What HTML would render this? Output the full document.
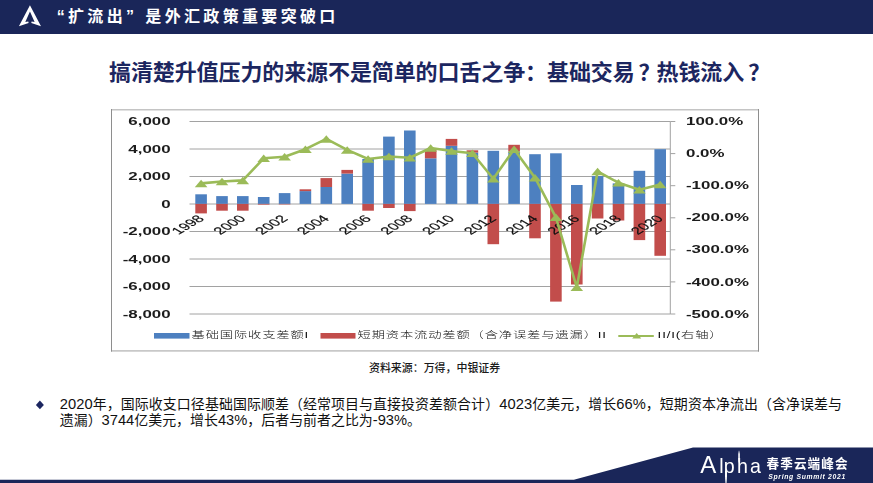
<!DOCTYPE html>
<html lang="zh-CN">
<head>
<meta charset="utf-8">
<title>“扩流出”是外汇政策重要突破口</title>
<style>
html,body{margin:0;padding:0;background:#fff;}
body{width:873px;height:483px;position:relative;overflow:hidden;font-family:"Liberation Sans","Noto Sans CJK SC",sans-serif;}
.hdr{position:absolute;left:0;top:0;width:873px;height:34px;background:#1a2659;}
.hdr .t{position:absolute;left:48.7px;top:1.3px;height:33px;line-height:32px;color:#fff;font-weight:bold;font-size:16px;letter-spacing:3.33px;white-space:nowrap;font-family:"Liberation Sans","Noto Sans CJK SC",sans-serif;}
.logo{position:absolute;left:0;top:0;}
.q{display:inline-block;width:16px;letter-spacing:0;margin-right:3.33px;}
.q.l{text-align:right;}
.q.r{text-align:left;}
.title{position:absolute;left:109px;top:58.3px;height:30px;line-height:30px;color:#1c2660;font-weight:bold;font-size:22px;letter-spacing:-0.1px;white-space:nowrap;}
.qm{position:relative;left:4px;}
.chart{position:absolute;left:0;top:0;}
.chart text{font-family:"DejaVu Sans","Noto Sans CJK SC",sans-serif;}
.chart .ax{font-size:10px;font-weight:bold;fill:#1a1a1a;font-family:"Liberation Sans",sans-serif;}
.chart .xl{font-size:10px;fill:#111;stroke:#111;stroke-width:0.15px;font-family:"Liberation Sans",sans-serif;}
.chart .lg{font-size:9.4px;letter-spacing:0.6px;font-weight:300;fill:#111;font-family:"Liberation Sans","Noto Sans CJK SC",sans-serif;}
.src{position:absolute;left:369px;top:360.9px;white-space:nowrap;font-size:10.95px;font-weight:500;color:#1a1a1a;line-height:14px;}
.bullet{position:absolute;left:0;top:0;}
.body{position:absolute;left:59.8px;top:396.8px;width:810px;font-size:13.95px;line-height:15.8px;color:#111;white-space:nowrap;}
.body .l1{letter-spacing:0.075px;}
.body .n{font-size:14.7px;line-height:1px;}
.foot{position:absolute;left:0;top:0;}
.ft1{position:absolute;left:766.5px;top:455.5px;color:#fff;font-size:12.6px;font-weight:bold;letter-spacing:1.1px;white-space:nowrap;line-height:16px;}
.ft2{position:absolute;left:768.3px;top:471.8px;color:#fff;font-size:6.8px;font-weight:bold;font-style:italic;letter-spacing:0.68px;white-space:nowrap;line-height:9px;}
.alpha{fill:#fff;font-size:19.65px;font-family:"Liberation Sans",sans-serif;}
.bigA{font-size:24px;}
</style>
</head>
<body>
<div class="hdr">
<svg class="logo" width="60" height="34" viewBox="0 0 60 34"><path d="M29.95,5.3 L18.9,26.3 L28.6,22.9 L28.3,21.5 L25.3,22.1 L29.95,11.4 L34.6,22.1 L31.6,21.5 L31.3,22.9 L41,26.3 Z" fill="#fff"/></svg>
<div class="t"><span class="q l">“</span>扩流出<span class="q r">”</span>是外汇政策重要突破口</div>
</div>
<div class="title">搞清楚升值压力的来源不是简单的口舌之争：基础交易<span class="qm">？</span>热钱流入<span class="qm">？</span></div>
<svg class="chart" width="873" height="483" viewBox="0 0 873 483">
<defs><filter id="bl" x="-5%" y="-5%" width="110%" height="110%"><feGaussianBlur stdDeviation="0.45"/></filter></defs>
<g filter="url(#bl)">
<rect x="111" y="109" width="648" height="242.6" fill="#fff"/>
<line x1="111" x2="759" y1="109.8" y2="109.8" stroke="#c4c4c4" stroke-width="1.6"/>
<line x1="111" x2="759" y1="350.8" y2="350.8" stroke="#c8c8c8" stroke-width="1.8"/>
<line x1="111.5" x2="111.5" y1="109" y2="351.6" stroke="#8e8e8e" stroke-width="1"/>
<line x1="758.5" x2="758.5" y1="109" y2="351.6" stroke="#8e8e8e" stroke-width="1"/>
<line x1="189.5" x2="670.3" y1="121.5" y2="121.5" stroke="#a2a2a2" stroke-width="1"/>
<line x1="189.5" x2="670.3" y1="149.0" y2="149.0" stroke="#a2a2a2" stroke-width="1"/>
<line x1="189.5" x2="670.3" y1="176.5" y2="176.5" stroke="#a2a2a2" stroke-width="1"/>
<line x1="189.5" x2="670.3" y1="204.0" y2="204.0" stroke="#a2a2a2" stroke-width="1"/>
<line x1="189.5" x2="670.3" y1="231.5" y2="231.5" stroke="#a2a2a2" stroke-width="1"/>
<line x1="189.5" x2="670.3" y1="259.0" y2="259.0" stroke="#a2a2a2" stroke-width="1"/>
<line x1="189.5" x2="670.3" y1="286.5" y2="286.5" stroke="#a2a2a2" stroke-width="1"/>
<line x1="189.5" x2="670.3" y1="314.0" y2="314.0" stroke="#a2a2a2" stroke-width="1"/>
<line x1="670.3" x2="670.3" y1="121.5" y2="314" stroke="#a2a2a2" stroke-width="1"/>
<line x1="670.3" x2="675.3" y1="121.5" y2="121.5" stroke="#a2a2a2" stroke-width="1"/>
<line x1="670.3" x2="675.3" y1="153.6" y2="153.6" stroke="#a2a2a2" stroke-width="1"/>
<line x1="670.3" x2="675.3" y1="185.7" y2="185.7" stroke="#a2a2a2" stroke-width="1"/>
<line x1="670.3" x2="675.3" y1="217.8" y2="217.8" stroke="#a2a2a2" stroke-width="1"/>
<line x1="670.3" x2="675.3" y1="249.8" y2="249.8" stroke="#a2a2a2" stroke-width="1"/>
<line x1="670.3" x2="675.3" y1="281.9" y2="281.9" stroke="#a2a2a2" stroke-width="1"/>
<line x1="670.3" x2="675.3" y1="314.0" y2="314.0" stroke="#a2a2a2" stroke-width="1"/>
<rect x="195.3" y="194.3" width="11.6" height="9.6" fill="#4d80c0"/>
<rect x="195.3" y="203.9" width="11.6" height="9.5" fill="#c24d4c"/>
<rect x="216.2" y="196.1" width="11.6" height="7.8" fill="#4d80c0"/>
<rect x="216.2" y="203.9" width="11.6" height="6.8" fill="#c24d4c"/>
<rect x="237.0" y="196.1" width="11.6" height="7.8" fill="#4d80c0"/>
<rect x="237.0" y="203.9" width="11.6" height="6.8" fill="#c24d4c"/>
<rect x="257.9" y="197.0" width="11.6" height="6.9" fill="#4d80c0"/>
<rect x="257.9" y="203.9" width="11.6" height="0.7" fill="#c24d4c"/>
<rect x="278.8" y="193.1" width="11.6" height="10.8" fill="#4d80c0"/>
<rect x="278.8" y="203.9" width="11.6" height="0.5" fill="#c24d4c"/>
<rect x="299.6" y="191.1" width="11.6" height="12.8" fill="#4d80c0"/>
<rect x="299.6" y="189.3" width="11.6" height="1.8" fill="#c24d4c"/>
<rect x="320.5" y="187.0" width="11.6" height="16.9" fill="#4d80c0"/>
<rect x="320.5" y="178.1" width="11.6" height="8.9" fill="#c24d4c"/>
<rect x="341.4" y="173.6" width="11.6" height="30.3" fill="#4d80c0"/>
<rect x="341.4" y="169.9" width="11.6" height="3.7" fill="#c24d4c"/>
<rect x="362.3" y="159.0" width="11.6" height="44.9" fill="#4d80c0"/>
<rect x="362.3" y="203.9" width="11.6" height="6.8" fill="#c24d4c"/>
<rect x="383.1" y="136.6" width="11.6" height="67.3" fill="#4d80c0"/>
<rect x="383.1" y="203.9" width="11.6" height="4.1" fill="#c24d4c"/>
<rect x="404.0" y="130.5" width="11.6" height="73.4" fill="#4d80c0"/>
<rect x="404.0" y="203.9" width="11.6" height="7.2" fill="#c24d4c"/>
<rect x="424.9" y="158.3" width="11.6" height="45.6" fill="#4d80c0"/>
<rect x="424.9" y="149.2" width="11.6" height="9.1" fill="#c24d4c"/>
<rect x="445.7" y="145.8" width="11.6" height="58.1" fill="#4d80c0"/>
<rect x="445.7" y="138.9" width="11.6" height="6.9" fill="#c24d4c"/>
<rect x="466.6" y="152.6" width="11.6" height="51.3" fill="#4d80c0"/>
<rect x="466.6" y="150.3" width="11.6" height="2.3" fill="#c24d4c"/>
<rect x="487.5" y="150.8" width="11.6" height="53.1" fill="#4d80c0"/>
<rect x="487.5" y="203.9" width="11.6" height="40.3" fill="#c24d4c"/>
<rect x="508.3" y="151.5" width="11.6" height="52.4" fill="#4d80c0"/>
<rect x="508.3" y="144.8" width="11.6" height="6.7" fill="#c24d4c"/>
<rect x="529.2" y="154.2" width="11.6" height="49.7" fill="#4d80c0"/>
<rect x="529.2" y="203.9" width="11.6" height="34.4" fill="#c24d4c"/>
<rect x="550.1" y="153.3" width="11.6" height="50.6" fill="#4d80c0"/>
<rect x="550.1" y="203.9" width="11.6" height="97.7" fill="#c24d4c"/>
<rect x="571.0" y="185.0" width="11.6" height="18.9" fill="#4d80c0"/>
<rect x="571.0" y="203.9" width="11.6" height="80.6" fill="#c24d4c"/>
<rect x="591.8" y="176.1" width="11.6" height="27.8" fill="#4d80c0"/>
<rect x="591.8" y="203.9" width="11.6" height="14.6" fill="#c24d4c"/>
<rect x="612.7" y="183.4" width="11.6" height="20.5" fill="#4d80c0"/>
<rect x="612.7" y="203.9" width="11.6" height="16.6" fill="#c24d4c"/>
<rect x="633.6" y="170.8" width="11.6" height="33.1" fill="#4d80c0"/>
<rect x="633.6" y="203.9" width="11.6" height="36.2" fill="#c24d4c"/>
<rect x="654.4" y="149.2" width="11.6" height="54.7" fill="#4d80c0"/>
<rect x="654.4" y="203.9" width="11.6" height="51.9" fill="#c24d4c"/>
<text class="ax" transform="translate(170.6,125.1) scale(1.69,1)" text-anchor="end">6,000</text>
<text class="ax" transform="translate(170.6,152.6) scale(1.69,1)" text-anchor="end">4,000</text>
<text class="ax" transform="translate(170.6,180.1) scale(1.69,1)" text-anchor="end">2,000</text>
<text class="ax" transform="translate(170.6,207.6) scale(1.69,1)" text-anchor="end">0</text>
<text class="ax" transform="translate(170.6,235.1) scale(1.69,1)" text-anchor="end">-2,000</text>
<text class="ax" transform="translate(170.6,262.6) scale(1.69,1)" text-anchor="end">-4,000</text>
<text class="ax" transform="translate(170.6,290.1) scale(1.69,1)" text-anchor="end">-6,000</text>
<text class="ax" transform="translate(170.6,317.6) scale(1.69,1)" text-anchor="end">-8,000</text>
<text class="ax" transform="translate(686,125.1) scale(1.69,1)">100.0%</text>
<text class="ax" transform="translate(686,157.2) scale(1.69,1)">0.0%</text>
<text class="ax" transform="translate(686,189.3) scale(1.69,1)">-100.0%</text>
<text class="ax" transform="translate(686,221.3) scale(1.69,1)">-200.0%</text>
<text class="ax" transform="translate(686,253.4) scale(1.69,1)">-300.0%</text>
<text class="ax" transform="translate(686,285.5) scale(1.69,1)">-400.0%</text>
<text class="ax" transform="translate(686,317.6) scale(1.69,1)">-500.0%</text>
<text class="xl" transform="translate(205.0,219.2) scale(1.68,1) rotate(-45)" text-anchor="end">1998</text>
<text class="xl" transform="translate(246.7,219.2) scale(1.68,1) rotate(-45)" text-anchor="end">2000</text>
<text class="xl" transform="translate(288.5,219.2) scale(1.68,1) rotate(-45)" text-anchor="end">2002</text>
<text class="xl" transform="translate(330.2,219.2) scale(1.68,1) rotate(-45)" text-anchor="end">2004</text>
<text class="xl" transform="translate(372.0,219.2) scale(1.68,1) rotate(-45)" text-anchor="end">2006</text>
<text class="xl" transform="translate(413.7,219.2) scale(1.68,1) rotate(-45)" text-anchor="end">2008</text>
<text class="xl" transform="translate(455.4,219.2) scale(1.68,1) rotate(-45)" text-anchor="end">2010</text>
<text class="xl" transform="translate(497.2,219.2) scale(1.68,1) rotate(-45)" text-anchor="end">2012</text>
<text class="xl" transform="translate(538.9,219.2) scale(1.68,1) rotate(-45)" text-anchor="end">2014</text>
<text class="xl" transform="translate(580.7,219.2) scale(1.68,1) rotate(-45)" text-anchor="end">2016</text>
<text class="xl" transform="translate(622.4,219.2) scale(1.68,1) rotate(-45)" text-anchor="end">2018</text>
<text class="xl" transform="translate(664.1,219.2) scale(1.68,1) rotate(-45)" text-anchor="end">2020</text>
<polyline points="201.1,183.4 222.0,181.5 242.8,180.4 263.7,158.3 284.6,156.7 305.4,149.2 326.3,138.9 347.2,149.9 368.1,159.0 388.9,156.5 409.8,157.8 430.7,148.0 451.5,151.0 472.4,153.3 493.3,178.8 514.1,149.2 535.0,177.7 555.9,217.3 576.8,287.3 597.6,171.5 618.5,182.7 639.4,189.7 660.2,184.5" fill="none" stroke="#9bbb59" stroke-width="2.6" stroke-linejoin="round"/>
<path d="M194.8,187.2 L207.4,187.2 L201.1,179.7 Z" fill="#9bbb59"/>
<path d="M215.7,185.3 L228.3,185.3 L222.0,177.8 Z" fill="#9bbb59"/>
<path d="M236.5,184.2 L249.1,184.2 L242.8,176.7 Z" fill="#9bbb59"/>
<path d="M257.4,162.1 L270.0,162.1 L263.7,154.6 Z" fill="#9bbb59"/>
<path d="M278.3,160.5 L290.9,160.5 L284.6,153.0 Z" fill="#9bbb59"/>
<path d="M299.1,153.0 L311.8,153.0 L305.4,145.5 Z" fill="#9bbb59"/>
<path d="M320.0,142.7 L332.6,142.7 L326.3,135.2 Z" fill="#9bbb59"/>
<path d="M340.9,153.7 L353.5,153.7 L347.2,146.2 Z" fill="#9bbb59"/>
<path d="M361.8,162.8 L374.4,162.8 L368.1,155.3 Z" fill="#9bbb59"/>
<path d="M382.6,160.3 L395.2,160.3 L388.9,152.8 Z" fill="#9bbb59"/>
<path d="M403.5,161.6 L416.1,161.6 L409.8,154.1 Z" fill="#9bbb59"/>
<path d="M424.4,151.8 L437.0,151.8 L430.7,144.3 Z" fill="#9bbb59"/>
<path d="M445.2,154.8 L457.8,154.8 L451.5,147.3 Z" fill="#9bbb59"/>
<path d="M466.1,157.1 L478.7,157.1 L472.4,149.6 Z" fill="#9bbb59"/>
<path d="M487.0,182.6 L499.6,182.6 L493.3,175.1 Z" fill="#9bbb59"/>
<path d="M507.8,153.0 L520.4,153.0 L514.1,145.5 Z" fill="#9bbb59"/>
<path d="M528.7,181.5 L541.3,181.5 L535.0,174.0 Z" fill="#9bbb59"/>
<path d="M549.6,221.1 L562.2,221.1 L555.9,213.6 Z" fill="#9bbb59"/>
<path d="M570.5,291.1 L583.1,291.1 L576.8,283.6 Z" fill="#9bbb59"/>
<path d="M591.3,175.3 L603.9,175.3 L597.6,167.8 Z" fill="#9bbb59"/>
<path d="M612.2,186.5 L624.8,186.5 L618.5,179.0 Z" fill="#9bbb59"/>
<path d="M633.1,193.5 L645.7,193.5 L639.4,186.0 Z" fill="#9bbb59"/>
<path d="M653.9,188.3 L666.5,188.3 L660.2,180.8 Z" fill="#9bbb59"/>
<rect x="154" y="333" width="35.5" height="5.6" fill="#4d80c0"/>
<text class="lg" transform="translate(191.6,337.6) scale(1.414,1)">基础国际收支差额I</text>
<rect x="320.5" y="333" width="35" height="5.6" fill="#c24d4c"/>
<text class="lg" transform="translate(357.6,337.6) scale(1.414,1)">短期资本流动差额（含净误差与遗漏）II</text>
<line x1="618.3" x2="653.8" y1="336" y2="336" stroke="#9bbb59" stroke-width="2.2"/>
<path d="M632.2,338.4 L641.2,338.4 L636.7,333 Z" fill="#9bbb59"/>
<text class="lg" transform="translate(657.6,337.6) scale(1.414,1)">II/I(右轴）</text>
</g>
</svg>
<div class="src">资料来源：万得，中银证券</div>
<svg class="bullet" width="60" height="483" viewBox="0 0 60 483"><path d="M39.9,400.5 L43.9,404.9 L39.9,409.3 L35.9,404.9 Z" fill="#1c2660"/></svg>
<div class="body"><span class="l1"><span class="n">2020</span>年，国际收支口径基础国际顺差（经常项目与直接投资差额合计）<span class="n">4023</span>亿美元，增长<span class="n">66%</span>，短期资本净流出（含净误差与</span><br>遗漏）<span class="n">3744</span>亿美元，增长<span class="n">43%</span>，后者与前者之比为<span class="n">-93%</span>。</div>
<svg class="foot" width="873" height="483" viewBox="0 0 873 483">
<defs>
<linearGradient id="gp" x1="0" y1="0" x2="0" y2="1"><stop offset="0" stop-color="#fff" stop-opacity="1"/><stop offset="0.6" stop-color="#fff" stop-opacity="0.95"/><stop offset="1" stop-color="#fff" stop-opacity="0.55"/></linearGradient>
<linearGradient id="gh" x1="0" y1="0" x2="0" y2="1"><stop offset="0" stop-color="#fff" stop-opacity="0.15"/><stop offset="0.3" stop-color="#fff" stop-opacity="0.95"/><stop offset="0.75" stop-color="#fff" stop-opacity="0.9"/><stop offset="1" stop-color="#fff" stop-opacity="0.55"/></linearGradient>
</defs>
<path d="M0,479.8 L573.9,479.8 L693,447.4 L873,447.4 L873,483 L0,483 Z" fill="#1a2659"/>
<rect x="725.05" y="471" width="1.9" height="12" fill="url(#gp)"/>
<rect x="738.2" y="450.5" width="1.7" height="12" fill="url(#gh)"/>
<text class="alpha" x="700.3 719.2 723.8 736.9 749.9" y="472.5"><tspan class="bigA">A</tspan>lpha</text>
</svg>
<div class="ft1">春季云端峰会</div>
<div class="ft2">Spring Summit 2021</div>
</body>
</html>
